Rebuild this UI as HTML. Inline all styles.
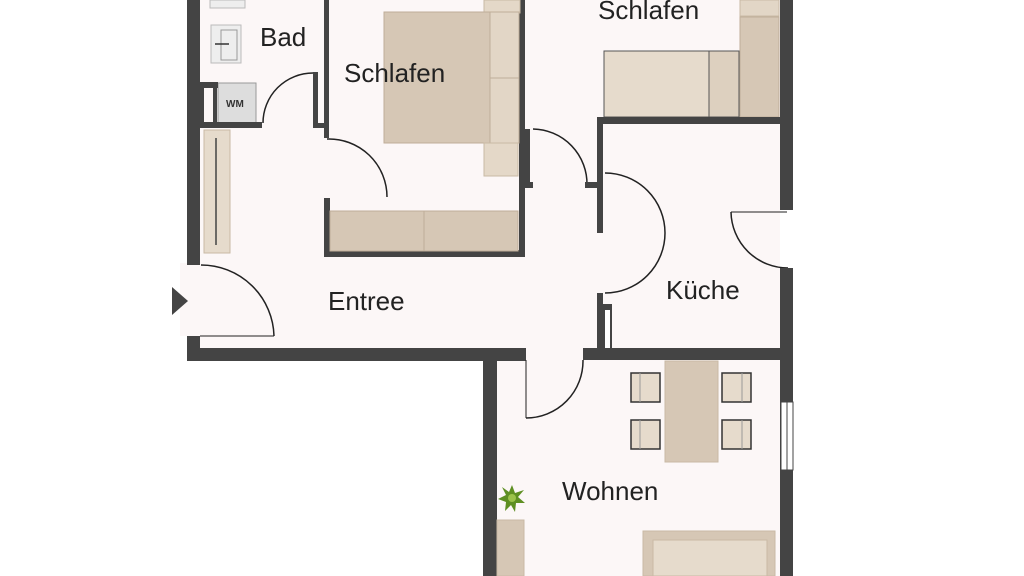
<!DOCTYPE html>
<html><head><meta charset="utf-8"><style>
html,body{margin:0;padding:0;background:#fff;width:1024px;height:576px;overflow:hidden}
text{font-family:"Liberation Sans",sans-serif;fill:#222;font-size:26px}
</style></head><body>
<svg width="1024" height="576" viewBox="0 0 1024 576" xmlns="http://www.w3.org/2000/svg">
<rect width="1024" height="576" fill="#fff"/>
<!-- floors -->
<rect x="200" y="0" width="580" height="348" fill="#fcf7f7"/>
<rect x="497" y="348" width="283" height="228" fill="#fcf7f7"/>
<rect x="180" y="263" width="20" height="73" fill="#fcf7f7"/>
<!-- furniture Bad -->
<rect x="210" y="0" width="35" height="8" fill="#eee" stroke="#bbb"/>
<rect x="211" y="25" width="30" height="38" fill="#eee" stroke="#bbb"/>
<rect x="221" y="30" width="16" height="30" fill="none" stroke="#999"/>
<line x1="215" y1="44" x2="229" y2="44" stroke="#333" stroke-width="1.5"/>
<rect x="218" y="83" width="38" height="40" fill="#ddd" stroke="#999"/>
<text x="226" y="107" style="font-size:10px;font-weight:bold;fill:#333">WM</text>
<!-- Bad walls -->
<rect x="200" y="82" width="18" height="6" fill="#444"/>
<rect x="200" y="122" width="62" height="6" fill="#444"/>
<rect x="200" y="88" width="4" height="34" fill="#444"/>
<rect x="213" y="88" width="4" height="34" fill="#444"/>
<rect x="313" y="72" width="5" height="56" fill="#444"/>
<rect x="313" y="123" width="14" height="5" fill="#444"/>
<path d="M313 73 A50 50 0 0 0 263 123" fill="none" stroke="#222" stroke-width="1.5"/>
<!-- Schlafen left walls -->
<rect x="324" y="0" width="5" height="138" fill="#444"/>
<rect x="324" y="198" width="6" height="58" fill="#444"/>
<rect x="324" y="250" width="201" height="7" fill="#444"/>
<rect x="519" y="0" width="6" height="257" fill="#444"/>
<path d="M327 139 A58 58 0 0 1 387 197" fill="none" stroke="#222" stroke-width="1.5"/>
<!-- Schlafen furniture -->
<rect x="484" y="0" width="36" height="13" fill="#e4d8c8" stroke="#c9baa5"/>
<rect x="384" y="12" width="135" height="131" fill="#d6c7b5" stroke="#bfae99"/>
<rect x="490" y="12" width="29" height="66" fill="#e2d6c6" stroke="#bfae99"/>
<rect x="490" y="78" width="29" height="65" fill="#e2d6c6" stroke="#bfae99"/>
<rect x="484" y="143" width="34" height="33" fill="#e4d8c8" stroke="#c9baa5"/>
<rect x="330" y="211" width="94" height="40" fill="#d6c7b5" stroke="#bfae99"/>
<rect x="424" y="211" width="94" height="40" fill="#d6c7b5" stroke="#bfae99"/>
<!-- Entree wardrobe -->
<rect x="204" y="130" width="26" height="123" fill="#e6dbcc" stroke="#c9baa5"/>
<line x1="216" y1="138" x2="216" y2="245" stroke="#444" stroke-width="1.5"/>
<!-- outer left wall -->
<rect x="187" y="0" width="13" height="265" fill="#444"/>
<rect x="187" y="336" width="13" height="25" fill="#444"/>
<rect x="187" y="348" width="339" height="13" fill="#444"/>
<polygon points="172,287 188,301 172,315" fill="#444"/>
<path d="M201 265 A73 73 0 0 1 274 336" fill="none" stroke="#222" stroke-width="1.5"/>
<line x1="200" y1="336" x2="274" y2="336" stroke="#222" stroke-width="1"/>
<!-- door Entree->Schlafen2 -->
<path d="M533 129 A55 55 0 0 1 587 185" fill="none" stroke="#222" stroke-width="1.5"/>
<rect x="525" y="129" width="5" height="57" fill="#444"/>
<rect x="525" y="182" width="8" height="6" fill="#444"/>
<rect x="585" y="182" width="14" height="6" fill="#444"/>
<!-- Schlafen2 furniture -->
<rect x="740" y="0" width="39" height="16" fill="#e2d6c6" stroke="#c9baa5"/>
<rect x="740" y="17" width="39" height="100" fill="#d6c7b5" stroke="#bfae99"/>
<rect x="604" y="51" width="105" height="66" fill="#e6dbcc" stroke="#555" stroke-width="1"/>
<rect x="709" y="51" width="30" height="66" fill="#ddd0bf" stroke="#555" stroke-width="1"/>
<!-- kitchen walls -->
<rect x="597" y="117" width="193" height="7" fill="#444"/>
<rect x="597" y="117" width="6" height="116" fill="#444"/>
<rect x="597" y="293" width="6" height="57" fill="#444"/>
<rect x="603" y="304" width="9" height="44" fill="#444"/>
<rect x="605" y="310" width="5" height="38" fill="#fff"/>
<path d="M605 173 A60 60 0 0 1 605 293" fill="none" stroke="#222" stroke-width="1.5"/>
<path d="M731 212 A57 57 0 0 0 788 268" fill="none" stroke="#222" stroke-width="1.5"/>
<line x1="731" y1="212" x2="787" y2="212" stroke="#222" stroke-width="1"/>
<!-- right outer wall -->
<rect x="780" y="0" width="13" height="210" fill="#444"/>
<rect x="780" y="268" width="13" height="308" fill="#444"/>
<rect x="781" y="402" width="12" height="68" fill="#fff" stroke="#444" stroke-width="1"/>
<line x1="787" y1="402" x2="787" y2="470" stroke="#444"/>
<!-- Wohnen walls -->
<rect x="583" y="348" width="207" height="12" fill="#444"/>
<rect x="483" y="348" width="14" height="228" fill="#444"/>
<rect x="483" y="348" width="43" height="13" fill="#444"/>
<path d="M583 360 A57 57 0 0 1 526 418" fill="none" stroke="#222" stroke-width="1.5"/>
<line x1="526" y1="360" x2="526" y2="418" stroke="#222" stroke-width="1"/>
<!-- dining -->
<rect x="665" y="361" width="53" height="101" fill="#d6c7b5" stroke="#c9baa5"/>
<g fill="#e6dbcc" stroke="#333" stroke-width="1.5">
<rect x="631" y="373" width="29" height="29"/><rect x="631" y="420" width="29" height="29"/>
<rect x="722" y="373" width="29" height="29"/><rect x="722" y="420" width="29" height="29"/>
</g>
<line x1="640" y1="373" x2="640" y2="402" stroke="#999"/><line x1="640" y1="420" x2="640" y2="449" stroke="#999"/>
<line x1="742" y1="373" x2="742" y2="402" stroke="#999"/><line x1="742" y1="420" x2="742" y2="449" stroke="#999"/>
<!-- plant & furniture -->
<polygon points="512,485 515,493 524,490 518,497 525,503 516,503 515,512 511,505 505,511 506,502 498,499 506,495 502,487 509,492" fill="#5e8f22"/>
<circle cx="512" cy="498" r="4" fill="#9bc24a"/>
<rect x="497" y="520" width="27" height="56" fill="#d6c7b5" stroke="#c9baa5"/>
<rect x="643" y="531" width="132" height="45" fill="#d6c7b5" stroke="#c9baa5"/>
<rect x="653" y="540" width="114" height="36" fill="#e6dbcc" stroke="#c9baa5"/>
<!-- labels -->
<text x="260" y="46">Bad</text>
<text x="344" y="82">Schlafen</text>
<text x="598" y="19">Schlafen</text>
<text x="328" y="310">Entree</text>
<text x="666" y="299">Küche</text>
<text x="562" y="500">Wohnen</text>
</svg>
</body></html>
